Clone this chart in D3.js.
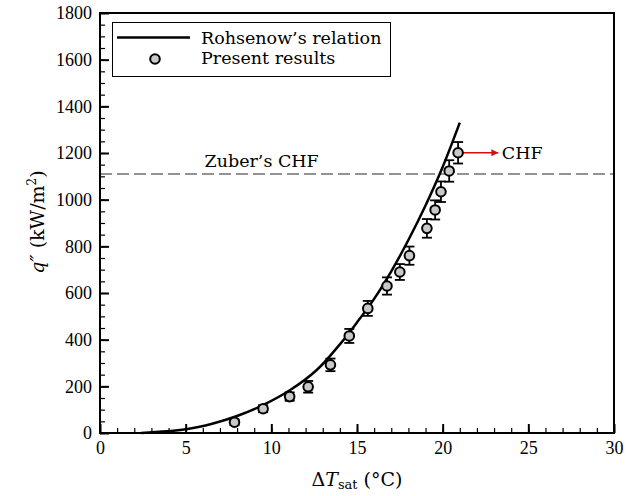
<!DOCTYPE html>
<html>
<head>
<meta charset="utf-8">
<script src="https://cdn.jsdelivr.net/npm/d3@7"></script>
<style>
  body { margin: 0; background: #fff; }
  .tick text { font-family: "Liberation Serif", serif; font-size: 18px; fill: #000; }
  .lbl { font-family: "DejaVu Serif", serif; font-size: 17.5px; fill: #000; }
</style>
</head>
<body>
<div id="chart"></div>
<script>
// Rohsenow's relation
var rohX = [2.4, 5, 6.6, 8, 9.5, 11.1, 12.65, 14, 15, 16, 17, 18, 19, 20, 21];
var rohQ = [0, 16, 41, 73, 119, 184, 270, 380, 474, 575, 693, 827, 975, 1140, 1330];

// Present results with error bars
var resX = [7.85, 9.52, 11.07, 12.15, 13.45, 14.55, 15.63, 16.75, 17.5, 18.06, 19.08, 19.56, 19.9, 20.38, 20.9];
var resQ = [46, 104, 156, 198, 292, 416, 534, 630, 690, 760, 877, 956, 1034, 1123, 1201];
var resErr = [12, 15, 18, 25, 27, 30, 32, 37, 34, 39, 40, 41, 44, 46, 46];

var zuberCHF = 1110;
var xTicks = [0, 5, 10, 15, 20, 25, 30];
var yTicks = [0, 200, 400, 600, 800, 1000, 1200, 1400, 1600, 1800];

var width = 631, height = 496;
var margin = {top: 13, right: 17, bottom: 63, left: 100};

var svg = d3.select('#chart').append('svg')
    .attr('width', width)
    .attr('height', height);

var xScale = d3.scaleLinear().domain([0, 30]).range([margin.left, width - margin.right]);
var yScale = d3.scaleLinear().domain([0, 1800]).range([height - margin.bottom, margin.top]);

// minor ticks
svg.append('g')
    .attr('transform', 'translate(0,' + (height - margin.bottom) + ')')
    .call(d3.axisBottom(xScale).tickValues(d3.range(0, 31, 1)).tickSize(-5).tickFormat(''))
    .call(function (g) { g.select('.domain').remove(); })
    .selectAll('line').attr('stroke', '#000').attr('stroke-width', 1.2);
svg.append('g')
    .attr('transform', 'translate(' + margin.left + ',0)')
    .call(d3.axisLeft(yScale).tickValues(d3.range(0, 1801, 50)).tickSize(-5).tickFormat(''))
    .call(function (g) { g.select('.domain').remove(); })
    .selectAll('line').attr('stroke', '#000').attr('stroke-width', 1.2);

// major ticks
var gx = svg.append('g')
    .attr('transform', 'translate(0,' + (height - margin.bottom) + ')')
    .call(d3.axisBottom(xScale).tickValues(xTicks).tickSize(-9).tickPadding(8).tickFormat(d3.format('d')))
    .call(function (g) { g.select('.domain').remove(); });
gx.selectAll('line').attr('stroke', '#000').attr('stroke-width', 2);
var gy = svg.append('g')
    .attr('transform', 'translate(' + margin.left + ',0)')
    .call(d3.axisLeft(yScale).tickValues(yTicks).tickSize(-9).tickPadding(8).tickFormat(d3.format('d')))
    .call(function (g) { g.select('.domain').remove(); });
gy.selectAll('line').attr('stroke', '#000').attr('stroke-width', 2);

// Zuber's CHF
svg.append('line')
    .attr('x1', xScale(0)).attr('x2', xScale(30))
    .attr('y1', yScale(zuberCHF)).attr('y2', yScale(zuberCHF))
    .attr('stroke', '#707070')
    .attr('stroke-width', 1.5)
    .attr('stroke-dasharray', '12,5');
svg.append('text')
    .attr('class', 'lbl')
    .attr('x', xScale(6.1))
    .attr('y', yScale(zuberCHF) - 7)
    .text('Zuber\u2019s CHF');

// Rohsenow curve
var line = d3.line()
    .x(function (d, i) { return xScale(rohX[i]); })
    .y(function (d) { return yScale(d); })
    .curve(d3.curveCatmullRom);
svg.append('path')
    .attr('d', line(rohQ))
    .attr('fill', 'none')
    .attr('stroke', '#000')
    .attr('stroke-width', 2.5);

// error bars
var eb = svg.append('g').selectAll('g')
    .data(resQ)
    .enter()
    .append('g')
    .attr('stroke', '#000')
    .attr('stroke-width', 1.8);
eb.append('line')
    .attr('x1', function (d, i) { return xScale(resX[i]); })
    .attr('x2', function (d, i) { return xScale(resX[i]); })
    .attr('y1', function (d, i) { return yScale(d - resErr[i]); })
    .attr('y2', function (d, i) { return yScale(d + resErr[i]); });
eb.append('line')
    .attr('x1', function (d, i) { return xScale(resX[i]) - 5; })
    .attr('x2', function (d, i) { return xScale(resX[i]) + 5; })
    .attr('y1', function (d, i) { return yScale(d - resErr[i]); })
    .attr('y2', function (d, i) { return yScale(d - resErr[i]); });
eb.append('line')
    .attr('x1', function (d, i) { return xScale(resX[i]) - 5; })
    .attr('x2', function (d, i) { return xScale(resX[i]) + 5; })
    .attr('y1', function (d, i) { return yScale(d + resErr[i]); })
    .attr('y2', function (d, i) { return yScale(d + resErr[i]); });

// CHF arrow
var last = resQ.length - 1;
svg.append('defs').append('marker')
    .attr('id', 'arr')
    .attr('viewBox', '0 0 10 10')
    .attr('refX', 10).attr('refY', 5)
    .attr('markerWidth', 12).attr('markerHeight', 7)
    .attr('markerUnits', 'userSpaceOnUse')
    .attr('orient', 'auto')
    .append('path')
    .attr('d', 'M0,0L10,5L0,10z')
    .attr('fill', '#d01010');
svg.append('line')
    .attr('x1', xScale(resX[last])).attr('x2', xScale(23.25))
    .attr('y1', yScale(resQ[last])).attr('y2', yScale(resQ[last]))
    .attr('stroke', '#d01010')
    .attr('stroke-width', 1.6)
    .attr('marker-end', 'url(#arr)');
svg.append('text')
    .attr('class', 'lbl')
    .attr('x', xScale(23.45))
    .attr('y', yScale(resQ[last]) + 6)
    .text('CHF');

// markers
svg.append('g').selectAll('circle')
    .data(resQ)
    .enter()
    .append('circle')
    .attr('cx', function (d, i) { return xScale(resX[i]); })
    .attr('cy', function (d) { return yScale(d); })
    .attr('r', 4.8)
    .attr('fill', '#c8c8c8')
    .attr('stroke', '#000')
    .attr('stroke-width', 2);

// frame
svg.append('rect')
    .attr('x', margin.left).attr('y', margin.top)
    .attr('width', width - margin.left - margin.right)
    .attr('height', height - margin.top - margin.bottom)
    .attr('fill', 'none')
    .attr('stroke', '#000')
    .attr('stroke-width', 2);

// legend
var lg = svg.append('g');
lg.append('rect')
    .attr('x', 112.5).attr('y', 22.5)
    .attr('width', 278).attr('height', 54)
    .attr('fill', '#fff')
    .attr('stroke', '#000')
    .attr('stroke-width', 1);
lg.append('line')
    .attr('x1', 117).attr('x2', 190)
    .attr('y1', 37.5).attr('y2', 37.5)
    .attr('stroke', '#000')
    .attr('stroke-width', 2.5);
lg.append('text').attr('class', 'lbl').attr('x', 201).attr('y', 43.5).text('Rohsenow\u2019s relation');
lg.append('circle')
    .attr('cx', 155).attr('cy', 59)
    .attr('r', 4.8)
    .attr('fill', '#c8c8c8')
    .attr('stroke', '#000')
    .attr('stroke-width', 2);
lg.append('text').attr('class', 'lbl').attr('x', 201).attr('y', 64).text('Present results');

// axis titles
var xt = svg.append('text')
    .attr('class', 'lbl')
    .attr('font-size', '19px')
    .style('font-size', '19px')
    .attr('x', (xScale(0) + xScale(30)) / 2)
    .attr('y', 486)
    .attr('text-anchor', 'middle');
xt.append('tspan').text('\u0394');
xt.append('tspan').attr('font-style', 'italic').text('T');
xt.append('tspan').style('font-size', '13px').attr('dy', 3).text('sat');
xt.append('tspan').attr('dy', -3).text(' (\u00b0C)');

var yt = svg.append('text')
    .attr('class', 'lbl')
    .style('font-size', '19px')
    .attr('transform', 'translate(44,222) rotate(-90)')
    .attr('text-anchor', 'middle');
yt.append('tspan').attr('font-style', 'italic').text('q\u2033');
yt.append('tspan').text(' (kW/m');
yt.append('tspan').style('font-size', '12px').attr('dy', -8).text('2');
yt.append('tspan').attr('dy', 8).text(')');
</script>
</body>
</html>
